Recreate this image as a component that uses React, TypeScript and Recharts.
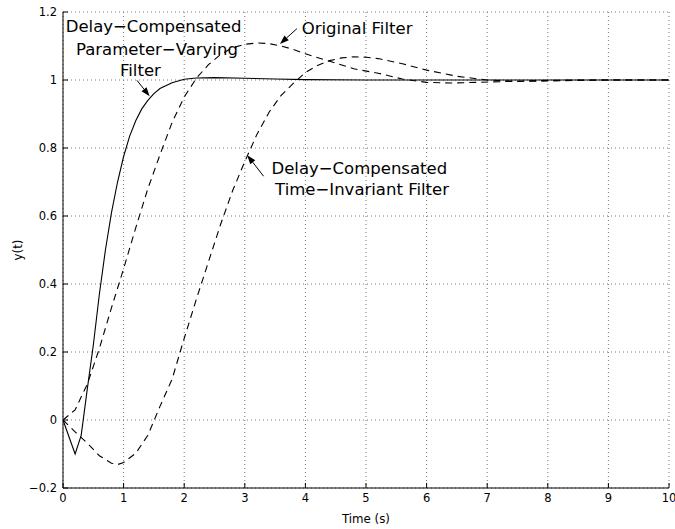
import React from 'react'
import { LineChart, Line, XAxis, YAxis, CartesianGrid, ReferenceLine, ReferenceDot } from 'recharts'

// step responses, sampled in seconds
const pvTime = [0, 0.2, 0.3, 0.4, 0.5, 0.6, 0.7, 0.8, 0.9, 1.0, 1.1, 1.2, 1.3, 1.4, 1.5, 1.6, 1.8, 2.0, 2.2, 2.5, 3.0, 3.5, 4.0, 5.0, 6, 7, 8, 9, 10]
const pvValues = [0, -0.1, -0.045, 0.09, 0.22, 0.37, 0.5, 0.61, 0.7, 0.775, 0.835, 0.88, 0.915, 0.94, 0.96, 0.975, 0.992, 1.002, 1.006, 1.007, 1.005, 1.003, 1.001, 1.0, 1.0, 1.0, 1.0, 1.0, 1.0]

const origTime = [0, 0.2, 0.4, 0.6, 0.8, 1.0, 1.2, 1.4, 1.6, 1.8, 2.0, 2.2, 2.4, 2.6, 2.8, 3.0, 3.2, 3.4, 3.6, 3.8, 4.0, 4.4, 4.8, 5.2, 5.6, 6.0, 6.4, 6.8, 7.2, 7.6, 8.0, 8.5, 9, 10]
const origValues = [0, 0.03, 0.105, 0.21, 0.33, 0.445, 0.565, 0.68, 0.78, 0.875, 0.95, 1.005, 1.045, 1.075, 1.095, 1.105, 1.109, 1.107, 1.1, 1.09, 1.077, 1.055, 1.033, 1.02, 1.003, 0.993, 0.991, 0.993, 0.995, 0.997, 0.999, 1.0, 1.0, 1.0]

const tiTime = [0, 0.2, 0.4, 0.6, 0.8, 0.9, 1.0, 1.2, 1.4, 1.6, 1.8, 2.0, 2.2, 2.4, 2.6, 2.8, 3.0, 3.2, 3.4, 3.6, 3.8, 4.0, 4.2, 4.4, 4.6, 4.8, 5.0, 5.2, 5.6, 6.0, 6.5, 7.0, 7.5, 8.0, 8.5, 9, 10]
const tiValues = [0, -0.035, -0.068, -0.105, -0.127, -0.131, -0.125, -0.098, -0.045, 0.04, 0.12, 0.24, 0.355, 0.465, 0.575, 0.675, 0.76, 0.84, 0.905, 0.955, 0.99, 1.022, 1.043, 1.057, 1.065, 1.068, 1.067, 1.063, 1.048, 1.029, 1.011, 1.0, 0.996, 0.997, 0.999, 1.0, 1.0]

const xTicks = [0, 1, 2, 3, 4, 5, 6, 7, 8, 9, 10]
const yTicks = [-0.2, 0, 0.2, 0.4, 0.6, 0.8, 1, 1.2]

// text lines: [t, y at baseline, text]
const notes: [number, number, string][] = [
  [0.045, 1.14, 'Delay−Compensated'],
  [0.215, 1.075, 'Parameter−Varying'],
  [0.94, 1.011, 'Filter'],
  [3.94, 1.136, 'Original Filter'],
  [3.44, 0.725, 'Delay−Compensated'],
  [3.5, 0.663, 'Time−Invariant Filter'],
]

// arrows: tail -> head
const arrows: [number, number, number, number][] = [
  [1.22, 0.999, 1.43, 0.952],
  [3.86, 1.151, 3.58, 1.106],
  [3.31, 0.717, 3.04, 0.779],
]

const toPoints = (ts: number[], ys: number[]) => ts.map((t, i) => ({ t, y: ys[i] }))

const pvData = toPoints(pvTime, pvValues)
const origData = toPoints(origTime, origValues)
const tiData = toPoints(tiTime, tiValues)

const fmt = (v: number) => {
  const s = Number.isInteger(v) ? String(v) : String(Math.round(v * 10) / 10)
  return s.replace('-', '−')
}

const Arrow = (props: any) => {
  const { x1, y1, x2, y2 } = props
  const dx = x2 - x1
  const dy = y2 - y1
  const len = Math.hypot(dx, dy)
  const ux = dx / len
  const uy = dy / len
  const hl = 9
  const hw = 3.2
  const bx = x2 - ux * hl
  const by = y2 - uy * hl
  const pts = `${x2},${y2} ${bx - uy * hw},${by + ux * hw} ${bx + uy * hw},${by - ux * hw}`
  return (
    <g>
      <line x1={x1} y1={y1} x2={bx} y2={by} stroke="#000" strokeWidth={1} />
      <polygon points={pts} fill="#000" />
    </g>
  )
}

const YLabel = (props: any) => {
  const { x, y, height } = props.viewBox
  const cx = x + 18
  const cy = y + height / 2
  return (
    <text x={cx} y={cy} transform={`rotate(-90 ${cx} ${cy})`} textAnchor="middle" dominantBaseline="central" fontSize={11.8} fill="#000">
      y(t)
    </text>
  )
}

export default function App() {
  const tickStyle = { fontSize: 11.5, fill: '#000' }
  return (
    <div style={{ position: 'absolute', left: 0, top: 0, fontFamily: '"DejaVu Sans", sans-serif', background: '#fff' }}>
      <LineChart width={675} height={529} margin={{ top: 12, right: 6, bottom: 0, left: 0 }}>
        <CartesianGrid stroke="#777" strokeDasharray="1 3" />
        <XAxis
          dataKey="t"
          type="number"
          domain={[0, 10]}
          ticks={xTicks}
          interval={0}
          allowDataOverflow
          height={41}
          stroke="#000"
          tickSize={-5}
          tickMargin={11}
          tick={tickStyle}
          tickFormatter={fmt}
          label={{ value: 'Time (s)', position: 'insideBottom', offset: 6, fontSize: 11.8, fill: '#000' }}
        />
        <XAxis
          xAxisId="top"
          orientation="top"
          type="number"
          domain={[0, 10]}
          ticks={xTicks}
          interval={0}
          allowDataOverflow
          height={0}
          stroke="#000"
          tickSize={-5}
          tick={false}
        />
        <YAxis
          type="number"
          domain={[-0.2, 1.2]}
          ticks={yTicks}
          interval={0}
          allowDataOverflow
          width={63}
          stroke="#000"
          tickSize={-5}
          tickMargin={11}
          tick={tickStyle}
          tickFormatter={fmt}
          label={YLabel}
        />
        <YAxis
          yAxisId="right"
          orientation="right"
          type="number"
          domain={[-0.2, 1.2]}
          ticks={yTicks}
          interval={0}
          allowDataOverflow
          width={0}
          stroke="#000"
          tickSize={-5}
          tick={false}
        />
        <Line data={origData} dataKey="y" type="linear" stroke="#000" strokeWidth={1.1} strokeDasharray="7 5" dot={false} isAnimationActive={false} />
        <Line data={tiData} dataKey="y" type="linear" stroke="#000" strokeWidth={1.1} strokeDasharray="7 5" dot={false} isAnimationActive={false} />
        <Line data={pvData} dataKey="y" type="linear" stroke="#000" strokeWidth={1.1} dot={false} isAnimationActive={false} />
        {arrows.map(([ta, ya, tb, yb], i) => (
          <ReferenceLine key={`a${i}`} segment={[{ x: ta, y: ya }, { x: tb, y: yb }]} shape={(p: any) => <Arrow {...p} />} />
        ))}
        {notes.map(([t, y, text], i) => (
          <ReferenceDot
            key={`n${i}`}
            x={t}
            y={y}
            r={0}
            shape={(p: any) => (
              <text x={p.cx} y={p.cy} fontSize={16.5} fill="#000">
                {text}
              </text>
            )}
          />
        ))}
      </LineChart>
    </div>
  )
}
